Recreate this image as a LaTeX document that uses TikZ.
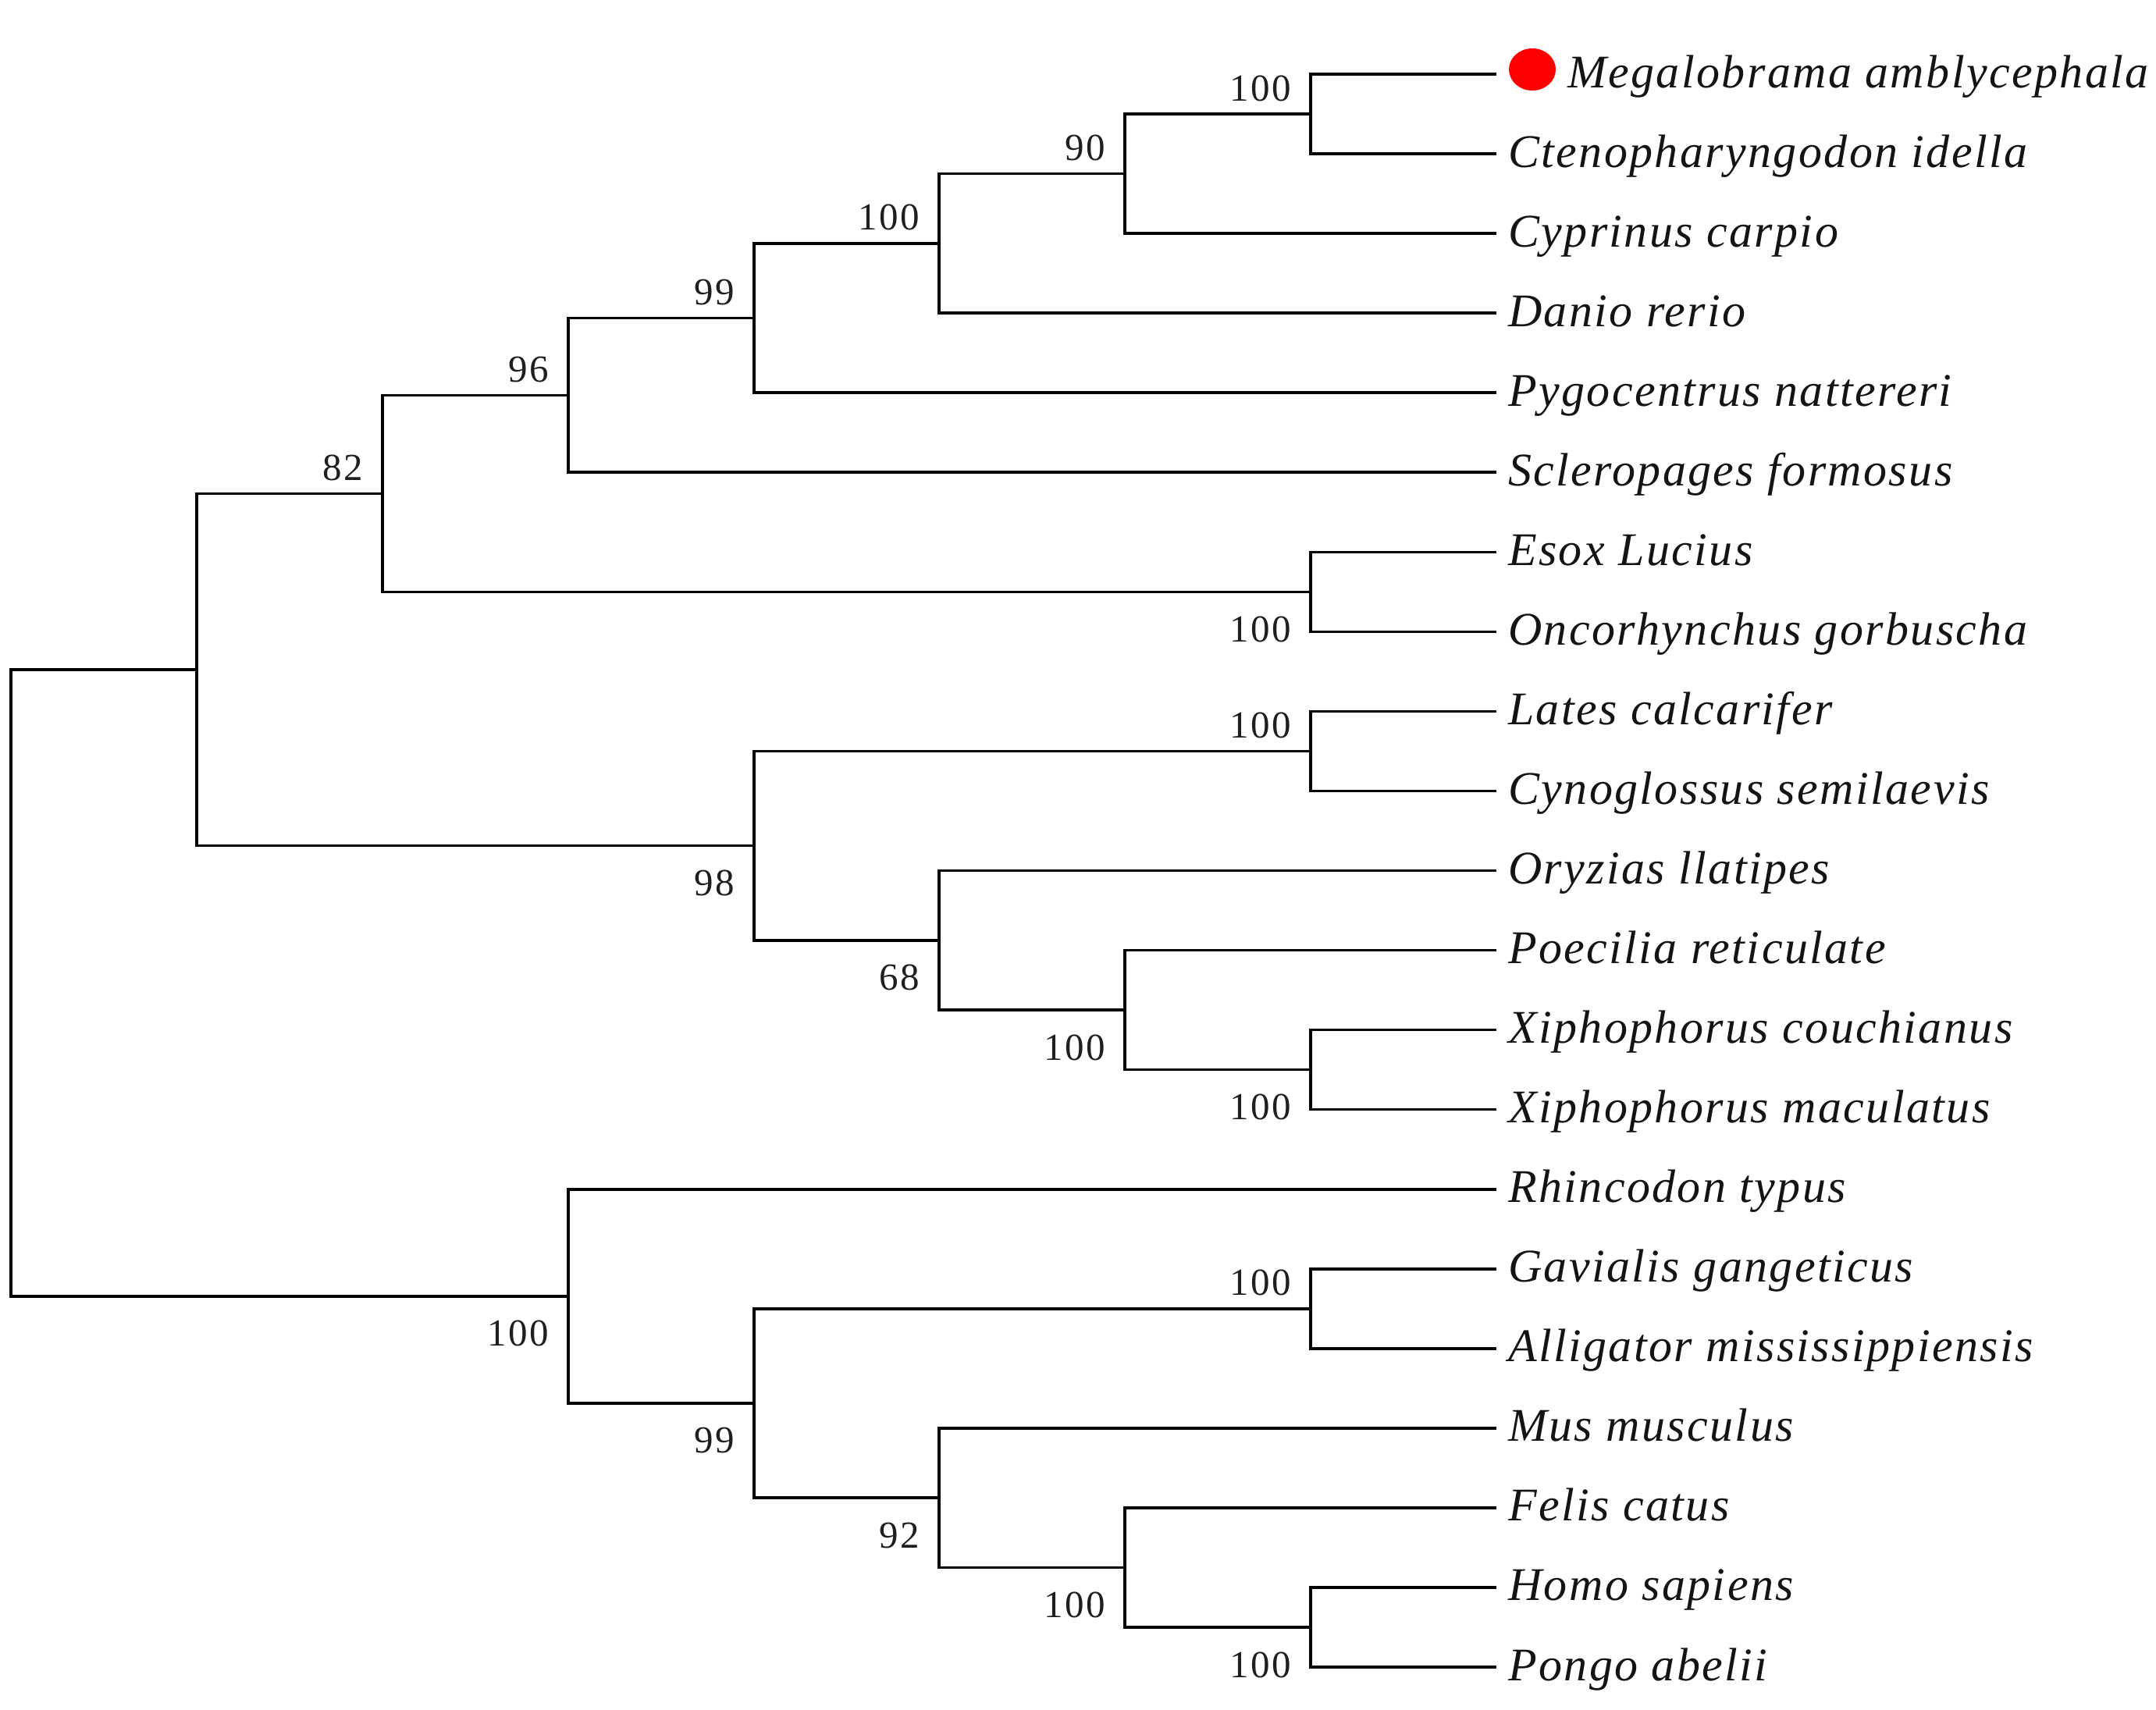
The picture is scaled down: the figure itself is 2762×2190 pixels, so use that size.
\documentclass[tikz,border=0pt]{standalone}
\usepackage{fontspec}
\setmainfont{Liberation Serif}
\newfontfamily\leaffont{Liberation Serif}[LetterSpace=4]
\newfontfamily\bsfont{Liberation Serif}[LetterSpace=5]
\begin{document}
\begin{tikzpicture}[x=1pt,y=-1pt,
  br/.style={line width=3.6pt, black, line join=miter},
  leaf/.style={anchor=base west, inner sep=0pt, text=black!92,
    font=\leaffont\itshape\fontsize{60}{72}\selectfont},
  bsup/.style={anchor=base east, inner sep=0pt, text=black!88,
    font=\bsfont\fontsize{49}{58}\selectfont},
]
\useasboundingbox (0,0) rectangle (2762,2190);
% leaf tips
\coordinate (l0) at (1917,95);
\coordinate (l1) at (1917,197.05);
\coordinate (l2) at (1917,299.1);
\coordinate (l3) at (1917,401.15);
\coordinate (l4) at (1917,503.2);
\coordinate (l5) at (1917,605.25);
\coordinate (l6) at (1917,707.3);
\coordinate (l7) at (1917,809.35);
\coordinate (l8) at (1917,911.4);
\coordinate (l9) at (1917,1013.45);
\coordinate (l10) at (1917,1115.5);
\coordinate (l11) at (1917,1217.55);
\coordinate (l12) at (1917,1319.6);
\coordinate (l13) at (1917,1421.65);
\coordinate (l14) at (1917,1523.7);
\coordinate (l15) at (1917,1625.75);
\coordinate (l16) at (1917,1727.8);
\coordinate (l17) at (1917,1829.85);
\coordinate (l18) at (1917,1931.9);
\coordinate (l19) at (1917,2033.95);
\coordinate (l20) at (1917,2136);
% internal nodes
\coordinate (A) at (1679,146.03);
\coordinate (B) at (1441,222.56);
\coordinate (C) at (1203,311.86);
\coordinate (D) at (966,407.53);
\coordinate (E) at (728,506.39);
\coordinate (F) at (1679,758.33);
\coordinate (G) at (490,632.36);
\coordinate (H) at (1679,962.43);
\coordinate (I) at (1679,1370.63);
\coordinate (J) at (1441,1294.09);
\coordinate (K) at (1203,1204.79);
\coordinate (M) at (966,1083.61);
\coordinate (N) at (252,857.99);
\coordinate (O) at (1679,1676.78);
\coordinate (P) at (1679,2084.98);
\coordinate (Q) at (1441,2008.44);
\coordinate (R) at (1203,1919.15);
\coordinate (S) at (966,1797.96);
\coordinate (T) at (728,1660.83);
\coordinate (root) at (14,1259.41);
% branches
\draw[br] (l0) -| (A) |- (l1);
\draw[br] (A) -| (B) |- (l2);
\draw[br] (B) -| (C) |- (l3);
\draw[br] (C) -| (D) |- (l4);
\draw[br] (D) -| (E) |- (l5);
\draw[br] (l6) -| (F) |- (l7);
\draw[br] (E) -| (G) |- (F);
\draw[br] (l8) -| (H) |- (l9);
\draw[br] (l12) -| (I) |- (l13);
\draw[br] (l11) -| (J) |- (I);
\draw[br] (l10) -| (K) |- (J);
\draw[br] (H) -| (M) |- (K);
\draw[br] (G) -| (N) |- (M);
\draw[br] (l15) -| (O) |- (l16);
\draw[br] (l19) -| (P) |- (l20);
\draw[br] (l18) -| (Q) |- (P);
\draw[br] (l17) -| (R) |- (Q);
\draw[br] (O) -| (S) |- (R);
\draw[br] (l14) -| (T) |- (S);
\draw[br] (N) -| (root) |- (T);
% marker
\fill[red] (1963,89) ellipse [x radius=30, y radius=27];
% leaf labels
\node[leaf] (t0) at (2008,112) {Megalobrama amblycephala};
\node[leaf] (t1) at (1932,214.05) {Ctenopharyngodon idella};
\node[leaf] (t2) at (1932,316.1) {Cyprinus carpio};
\node[leaf] (t3) at (1932,418.15) {Danio rerio};
\node[leaf] (t4) at (1932,520.2) {Pygocentrus nattereri};
\node[leaf] (t5) at (1932,622.25) {Scleropages formosus};
\node[leaf] (t6) at (1932,724.3) {Esox Lucius};
\node[leaf] (t7) at (1932,826.35) {Oncorhynchus gorbuscha};
\node[leaf] (t8) at (1932,928.4) {Lates calcarifer};
\node[leaf] (t9) at (1932,1030.45) {Cynoglossus semilaevis};
\node[leaf] (t10) at (1932,1132.5) {Oryzias llatipes};
\node[leaf] (t11) at (1932,1234.55) {Poecilia reticulate};
\node[leaf] (t12) at (1932,1336.6) {Xiphophorus couchianus};
\node[leaf] (t13) at (1932,1438.65) {Xiphophorus maculatus};
\node[leaf] (t14) at (1932,1540.7) {Rhincodon typus};
\node[leaf] (t15) at (1932,1642.75) {Gavialis gangeticus};
\node[leaf] (t16) at (1932,1744.8) {Alligator mississippiensis};
\node[leaf] (t17) at (1932,1846.85) {Mus musculus};
\node[leaf] (t18) at (1932,1948.9) {Felis catus};
\node[leaf] (t19) at (1932,2050.95) {Homo sapiens};
\node[leaf] (t20) at (1932,2153) {Pongo abelii};
% bootstrap values (above the branch)
\node[bsup] (bA) at ([xshift=-25pt,yshift=17pt]A) {100};
\node[bsup] (bB) at ([xshift=-25pt,yshift=17pt]B) {90};
\node[bsup] (bC) at ([xshift=-25pt,yshift=17pt]C) {100};
\node[bsup] (bD) at ([xshift=-25pt,yshift=17pt]D) {99};
\node[bsup] (bE) at ([xshift=-25pt,yshift=17pt]E) {96};
\node[bsup] (bG) at ([xshift=-25pt,yshift=17pt]G) {82};
\node[bsup] (bH) at ([xshift=-25pt,yshift=17pt]H) {100};
\node[bsup] (bO) at ([xshift=-25pt,yshift=17pt]O) {100};
% bootstrap values (below the branch)
\node[bsup] (bF) at ([xshift=-25pt,yshift=-64pt]F) {100};
\node[bsup] (bM) at ([xshift=-25pt,yshift=-64pt]M) {98};
\node[bsup] (bK) at ([xshift=-25pt,yshift=-64pt]K) {68};
\node[bsup] (bJ) at ([xshift=-25pt,yshift=-64pt]J) {100};
\node[bsup] (bI) at ([xshift=-25pt,yshift=-64pt]I) {100};
\node[bsup] (bT) at ([xshift=-25pt,yshift=-64pt]T) {100};
\node[bsup] (bS) at ([xshift=-25pt,yshift=-64pt]S) {99};
\node[bsup] (bR) at ([xshift=-25pt,yshift=-64pt]R) {92};
\node[bsup] (bQ) at ([xshift=-25pt,yshift=-64pt]Q) {100};
\node[bsup] (bP) at ([xshift=-25pt,yshift=-64pt]P) {100};
\end{tikzpicture}
\end{document}
